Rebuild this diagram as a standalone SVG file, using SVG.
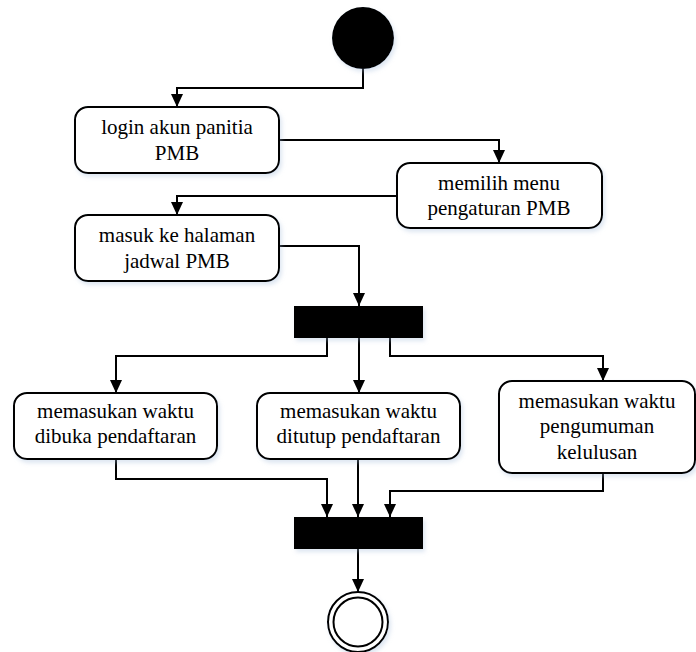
<svg xmlns="http://www.w3.org/2000/svg" width="696" height="652" viewBox="0 0 696 652">
<style>
.box{fill:#fff;stroke:#000;stroke-width:2}
text{font-family:"Times New Roman","Liberation Serif","Noto Serif","DejaVu Serif",FreeSerif,Tinos,serif;font-size:21px;fill:#000;text-anchor:middle}
.c{fill:none;stroke:#000;stroke-width:2}
.bar{fill:#000}
</style>
<defs>
<marker id="ah" markerUnits="userSpaceOnUse" markerWidth="14" markerHeight="14" viewBox="0 0 14 14" refX="13" refY="7" orient="auto">
<path d="M0,1 L13,7 L0,13 Z" fill="#000"/>
</marker>
<filter id="sh" x="-10%" y="-10%" width="130%" height="140%">
<feDropShadow dx="2" dy="3" stdDeviation="2" flood-color="#9fb8d8" flood-opacity="0.35"/>
</filter>
</defs>
<g id="connectors">
<path class="c" d="M363,69 V88 H177 V107" marker-end="url(#ah)"/>
<path class="c" d="M279,140 H499 V163" marker-end="url(#ah)"/>
<path class="c" d="M397,196 H177 V215" marker-end="url(#ah)"/>
<path class="c" d="M279,246 H359 V306" marker-end="url(#ah)"/>
<path class="c" d="M327,338 V356 H116 V393" marker-end="url(#ah)"/>
<path class="c" d="M359,338 V393" marker-end="url(#ah)"/>
<path class="c" d="M390,338 V356 H603 V381" marker-end="url(#ah)"/>
<path class="c" d="M116,459 V479 H327 V517" marker-end="url(#ah)"/>
<path class="c" d="M358,459 V517" marker-end="url(#ah)"/>
<path class="c" d="M603,473 V491 H390 V517" marker-end="url(#ah)"/>
<path class="c" d="M358,549 V592" marker-end="url(#ah)"/>
</g>
<g id="start"><circle cx="363" cy="38" r="31" fill="#000" filter="url(#sh)"/></g>
<g id="login">
<rect class="box" x="75" y="107" width="204" height="66" rx="13" filter="url(#sh)"/>
<text x="177" y="134">login akun panitia</text>
<text x="177" y="160">PMB</text>
</g>
<g id="memilih">
<rect class="box" x="397" y="163" width="205" height="65" rx="13" filter="url(#sh)"/>
<text x="499" y="190">memilih menu</text>
<text x="499" y="215">pengaturan PMB</text>
</g>
<g id="masuk">
<rect class="box" x="75" y="215" width="204" height="66" rx="13" filter="url(#sh)"/>
<text x="177" y="242">masuk ke halaman</text>
<text x="177" y="268">jadwal PMB</text>
</g>
<g id="fork"><rect class="bar" x="294" y="306" width="129" height="32" filter="url(#sh)"/></g>
<g id="dibuka">
<rect class="box" x="14" y="393" width="203" height="66" rx="13" filter="url(#sh)"/>
<text x="115.5" y="418">memasukan waktu</text>
<text x="115.5" y="443">dibuka pendaftaran</text>
</g>
<g id="ditutup">
<rect class="box" x="257" y="393" width="203" height="66" rx="13" filter="url(#sh)"/>
<text x="358.5" y="418">memasukan waktu</text>
<text x="358.5" y="443">ditutup pendaftaran</text>
</g>
<g id="pengumuman">
<rect class="box" x="499" y="381" width="196" height="92" rx="13" filter="url(#sh)"/>
<text x="597" y="408">memasukan waktu</text>
<text x="597" y="433">pengumuman</text>
<text x="597" y="459">kelulusan</text>
</g>
<g id="join"><rect class="bar" x="294" y="517" width="129" height="32" filter="url(#sh)"/></g>
<g id="end">
<circle cx="358" cy="622" r="30" fill="#fff" stroke="#000" stroke-width="2" filter="url(#sh)"/>
<circle cx="358" cy="622" r="24.5" fill="#fff" stroke="#000" stroke-width="2"/>
</g>
</svg>
